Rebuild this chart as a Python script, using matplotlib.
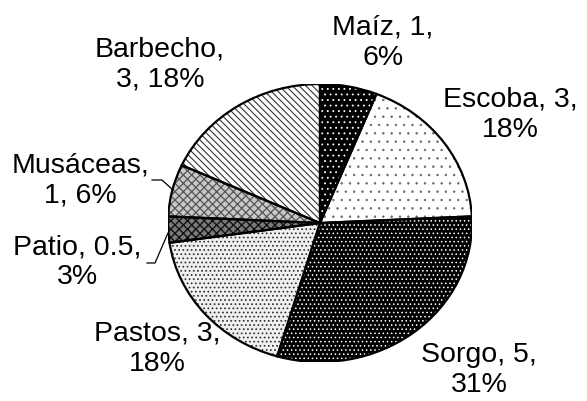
import matplotlib
matplotlib.use("Agg")
import matplotlib.pyplot as plt
from matplotlib.patches import Wedge

plt.rcParams['font.family'] = ['Liberation Sans', 'DejaVu Sans']

categories = ["Maíz", "Escoba", "Sorgo", "Pastos", "Patio", "Musáceas", "Barbecho"]
values = [1, 3, 5, 3, 0.5, 1, 3]
value_labels = ["1", "3", "5", "3", "0.5", "1", "3"]
percents = ["6%", "18%", "31%", "18%", "3%", "6%", "18%"]

# styling per slice (face colour, hatch pattern, hatch colour, hatch width)
faces = ['#000000', '#ffffff', '#000000', '#f0f0f0', '#7a7a7a', '#c8c8c8', '#ffffff']
hatches = ['...', '..', '....', '....', 'xxxx', 'xxxx', '\\\\\\\\\\']
hcolors = ['#ffffff', '#666666', '#ffffff', '#333333', '#111111', '#555555', '#333333']
hwidths = [0.6, 0.5, 0.6, 0.75, 1.0, 0.9, 0.8]

W, H = 587, 401
fig = plt.figure(figsize=(W / 100, H / 100), dpi=100)
ax = fig.add_axes([168 / W, 39 / H, 304 / W, 278 / H])

wedges, _ = ax.pie(values, startangle=90, counterclock=False, radius=1,
                   colors=faces, wedgeprops=dict(linewidth=0))
for w, h, hc, hw in zip(wedges, hatches, hcolors, hwidths):
    with plt.rc_context({'hatch.linewidth': hw}):
        ov = Wedge((0, 0), 1, w.theta1, w.theta2, fill=False, hatch=h,
                   edgecolor=hc, linewidth=0, zorder=3)
    ax.add_patch(ov)
    ax.add_patch(Wedge((0, 0), 1, w.theta1, w.theta2, fill=False,
                       edgecolor='black', linewidth=1.6, zorder=5))
ax.set_aspect('auto')
ax.set_xlim(-1, 1)
ax.set_ylim(-1, 1)
ax.axis('off')

# label layout (pixel centres in the figure)
label_pos = [(383, 43), (510, 115), (479, 370), (157, 349), (77, 262), (80, 180), (160, 65)]
first_break = [True, True, True, True, True, False, False]
for name, v, p, (px, py), fb in zip(categories, value_labels, percents, label_pos, first_break):
    if fb:
        txt = f"{name}, {v},\n{p}"
    else:
        txt = f"{name},\n{v}, {p}"
    fig.text(px / W, 1 - py / H, txt, ha='center', va='center',
             fontsize=20.5, linespacing=1.2, color='black')

# leader lines (Musáceas, Patio)
for pts in ([(152, 180), (162, 180), (173, 190)], [(147, 263), (155, 263), (168, 233)]):
    xs = [p[0] / W for p in pts]
    ys = [1 - p[1] / H for p in pts]
    fig.add_artist(plt.Line2D(xs, ys, color='black', linewidth=0.9, transform=fig.transFigure))

fig.savefig("out.png", dpi=100)
